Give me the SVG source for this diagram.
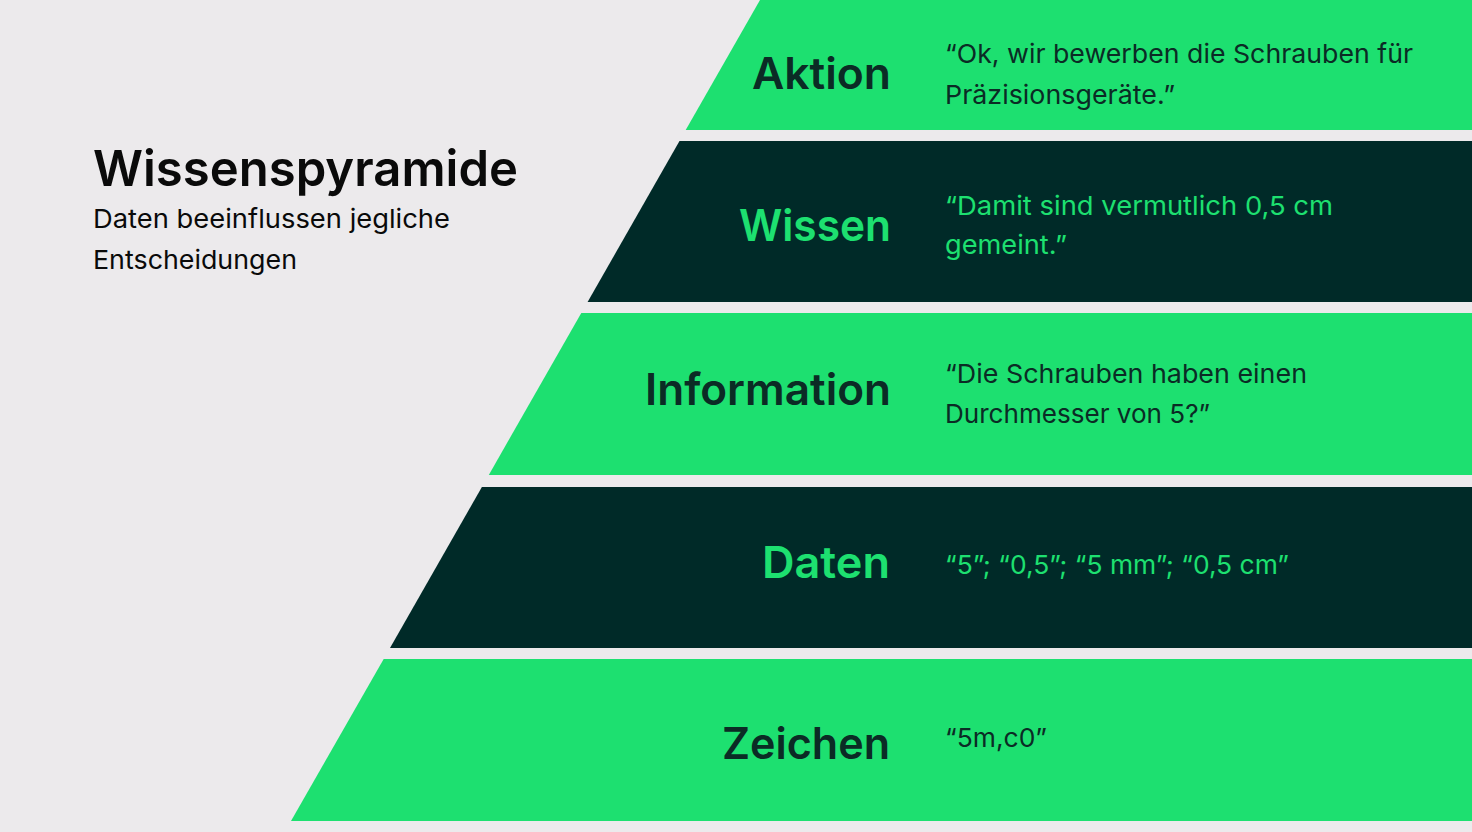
<svg xmlns="http://www.w3.org/2000/svg" width="1472" height="832" viewBox="0 0 1472 832">
  <style>
    .bg { fill: #ECEAEC; }
    .green { fill: #1DE070; }
    .dark { fill: #002A28; }
    .label { font-family: Inter, "Noto Sans", "Liberation Sans", sans-serif; font-weight: 600; font-size: 44px; text-anchor: end; }
    .quote { font-family: Inter, "Noto Sans", "Liberation Sans", sans-serif; font-weight: 400; font-size: 26px; }
    .onGreen { fill: #0B2B25; }
    .onDark { fill: #1DE070; }
    .title { font-family: Inter, "Noto Sans", "Liberation Sans", sans-serif; font-weight: 600; font-size: 50px; fill: #0A0A0A; }
    .sub { font-family: Inter, "Noto Sans", "Liberation Sans", sans-serif; font-weight: 400; font-size: 26px; fill: #0A0A0A; }
  </style>
  <rect class="bg" x="0" y="0" width="1472" height="832"/>

  <g id="intro">
    <text class="title" x="93" y="186" textLength="425" lengthAdjust="spacingAndGlyphs">Wissenspyramide</text>
    <text class="sub" x="93" y="228" textLength="357" lengthAdjust="spacingAndGlyphs">Daten beeinflussen jegliche</text>
    <text class="sub" x="93" y="269" textLength="204" lengthAdjust="spacingAndGlyphs">Entscheidungen</text>
  </g>

  <g id="aktion">
    <polygon class="green" points="760,0 1472,0 1472,130 685.7,130"/>
    <text class="label onGreen" x="891" y="89" textLength="139" lengthAdjust="spacingAndGlyphs">Aktion</text>
    <text class="quote onGreen" x="945" y="63" textLength="468" lengthAdjust="spacingAndGlyphs">“Ok, wir bewerben die Schrauben für</text>
    <text class="quote onGreen" x="945" y="104" textLength="230" lengthAdjust="spacingAndGlyphs">Präzisionsgeräte.”</text>
  </g>

  <g id="wissen">
    <polygon class="dark" points="679.5,141 1472,141 1472,302 587.6,302"/>
    <text class="label onDark" x="891" y="241" textLength="152" lengthAdjust="spacingAndGlyphs">Wissen</text>
    <text class="quote onDark" x="945" y="215" textLength="388" lengthAdjust="spacingAndGlyphs">“Damit sind vermutlich 0,5 cm</text>
    <text class="quote onDark" x="945" y="254" textLength="122" lengthAdjust="spacingAndGlyphs">gemeint.”</text>
  </g>

  <g id="information">
    <polygon class="green" points="581.3,313 1472,313 1472,475 488.8,475"/>
    <text class="label onGreen" x="891" y="405" textLength="246" lengthAdjust="spacingAndGlyphs">Information</text>
    <text class="quote onGreen" x="945" y="383" textLength="362" lengthAdjust="spacingAndGlyphs">“Die Schrauben haben einen</text>
    <text class="quote onGreen" x="945" y="423" textLength="265" lengthAdjust="spacingAndGlyphs">Durchmesser von 5?”</text>
  </g>

  <g id="daten">
    <polygon class="dark" points="481.9,487 1472,487 1472,648 390,648"/>
    <text class="label onDark" x="890" y="578" textLength="128" lengthAdjust="spacingAndGlyphs">Daten</text>
    <text class="quote onDark" x="945" y="574" textLength="344" lengthAdjust="spacingAndGlyphs">“5”; “0,5”; “5 mm”; “0,5 cm”</text>
  </g>

  <g id="zeichen">
    <polygon class="green" points="383.7,659 1472,659 1472,821 291,821"/>
    <text class="label onGreen" x="890" y="759" textLength="168" lengthAdjust="spacingAndGlyphs">Zeichen</text>
    <text class="quote onGreen" x="945" y="747" textLength="102" lengthAdjust="spacingAndGlyphs">“5m,c0”</text>
  </g>

  <g id="connectors"/>
</svg>
